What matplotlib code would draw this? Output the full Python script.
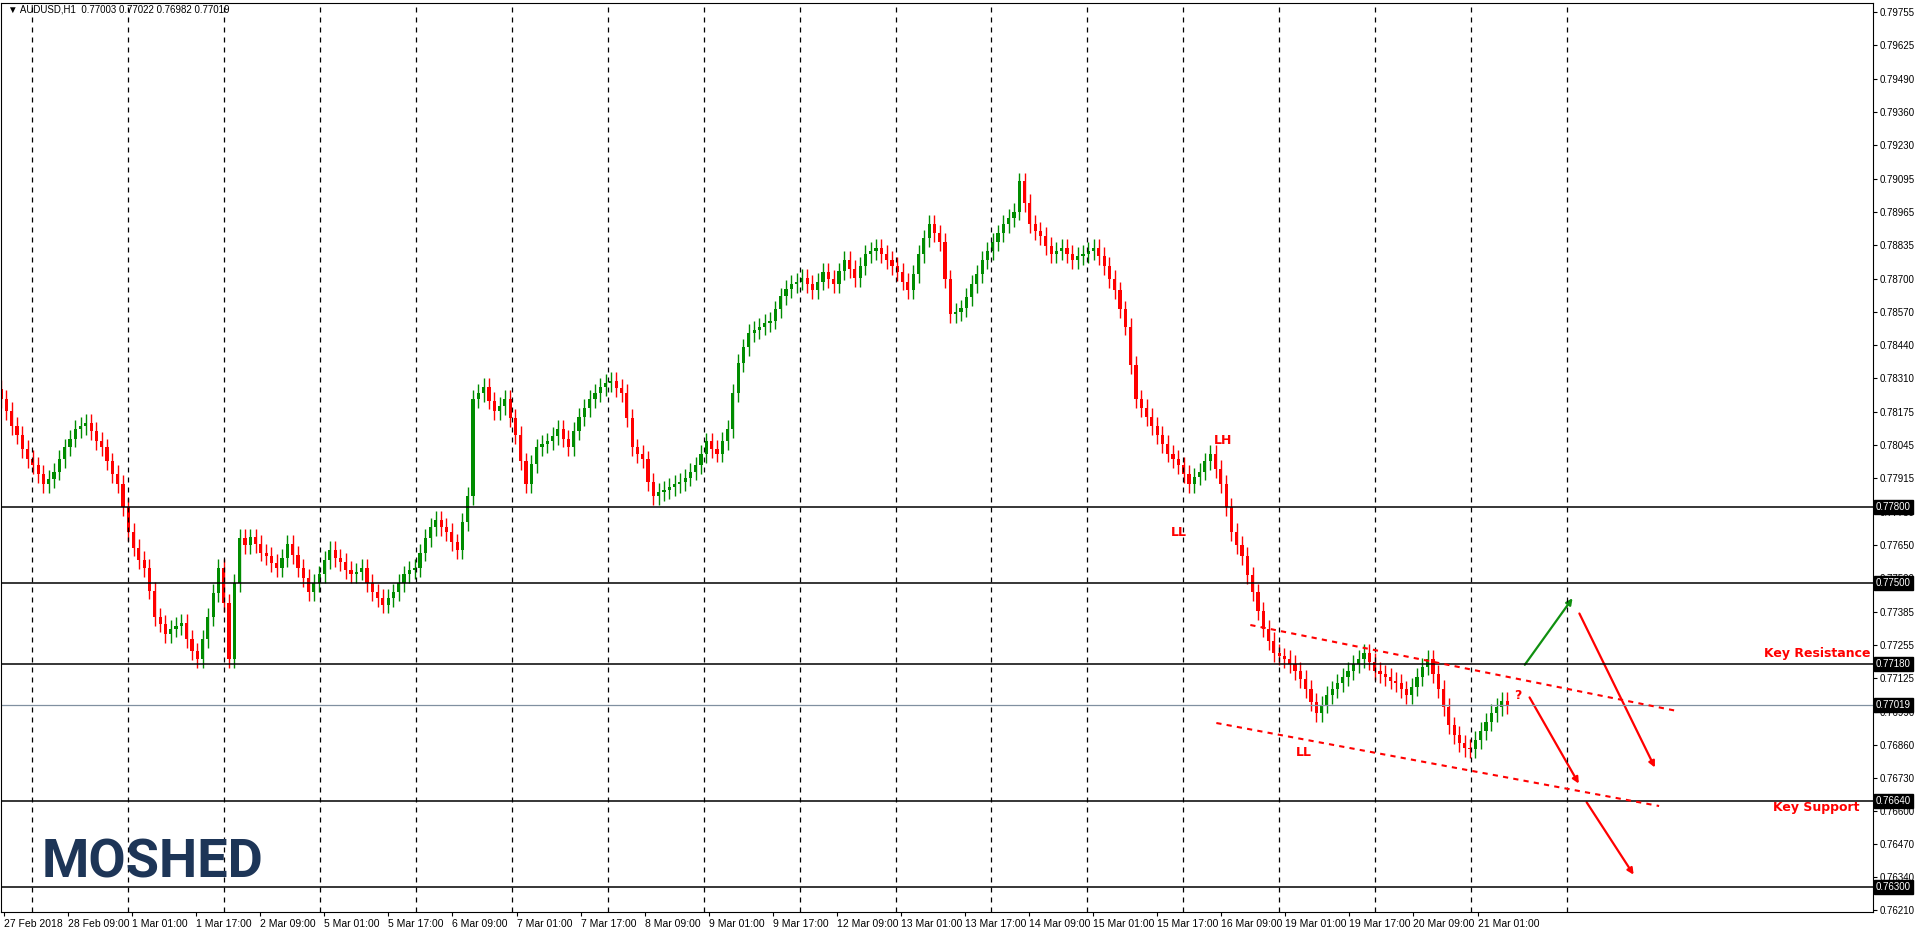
import numpy as np
import matplotlib.pyplot as plt
from matplotlib.patches import FancyArrowPatch

# hourly closes, in 1e-5 units
CLOSES = [
    78226, 78180, 78120, 78083, 78030, 77990, 77964, 77930, 77892, 77910, 77940, 77990, 78035, 78070, 78107, 78120,
    78131, 78100, 78060, 78035, 77980, 77930, 77892, 77800, 77701, 77640, 77590, 77558, 77470, 77367, 77340, 77300,
    77320, 77330, 77344, 77280, 77230, 77201, 77280, 77367, 77460, 77558, 77420, 77201, 77500, 77677, 77650, 77680,
    77654, 77620, 77606, 77580, 77558, 77600, 77654, 77610, 77558, 77520, 77463, 77500, 77534, 77590, 77630, 77600,
    77582, 77550, 77534, 77545, 77558, 77500, 77463, 77440, 77415, 77440, 77463, 77500, 77534, 77550, 77558, 77620,
    77677, 77720, 77749, 77720, 77701, 77660, 77630, 77740, 77844, 78226, 78250, 78274, 78220, 78178, 78200, 78226,
    78150, 78083, 77980, 77892, 77970, 78035, 78050, 78059, 78080, 78107, 78070, 78035, 78100, 78155, 78190, 78226,
    78250, 78274, 78290, 78297, 78270, 78250, 78150, 78035, 78010, 77988, 77900, 77844, 77860, 77868, 77880, 77892,
    77900, 77916, 77940, 77964, 78010, 78059, 78030, 78011, 78060, 78107, 78250, 78369, 78430, 78488, 78500, 78512,
    78525, 78536, 78580, 78631, 78660, 78679, 78690, 78703, 78680, 78655, 78690, 78727, 78700, 78679, 78730, 78774,
    78740, 78703, 78750, 78798, 78810, 78822, 78800, 78774, 78750, 78727, 78690, 78655, 78720, 78798, 78860, 78918,
    78880, 78846, 78700, 78560, 78570, 78584, 78630, 78679, 78720, 78774, 78810, 78846, 78880, 78918, 78940, 78966,
    79085, 79000, 78918, 78890, 78870, 78830, 78798, 78810, 78822, 78800, 78774, 78790, 78798, 78810, 78822, 78790,
    78750, 78700, 78655, 78580, 78512, 78360, 78226, 78190, 78155, 78120, 78083, 78050, 78011, 77990, 77964, 77930,
    77892, 77920, 77940, 77980, 78011, 77950, 77892, 77800, 77701, 77650, 77606, 77530, 77463, 77390, 77320, 77270,
    77224, 77210, 77201, 77180, 77153, 77120, 77081, 77030, 76986, 77020, 77057, 77080, 77105, 77130, 77153, 77180,
    77201, 77224, 77190, 77153, 77140, 77129, 77115, 77105, 77080, 77057, 77090, 77129, 77170, 77201, 77140, 77081,
    77010, 76938, 76900, 76867, 76850, 76843, 76880, 76915, 76950, 76986, 77010, 77033, 77019,
]
WICK = 0.00035

X_LABELS = ['27 Feb 2018', '28 Feb 09:00', '1 Mar 01:00', '1 Mar 17:00', '2 Mar 09:00', '5 Mar 01:00',
            '5 Mar 17:00', '6 Mar 09:00', '7 Mar 01:00', '7 Mar 17:00', '8 Mar 09:00', '9 Mar 01:00',
            '9 Mar 17:00', '12 Mar 09:00', '13 Mar 01:00', '13 Mar 17:00', '14 Mar 09:00', '15 Mar 01:00',
            '15 Mar 17:00', '16 Mar 09:00', '19 Mar 01:00', '19 Mar 17:00', '20 Mar 09:00', '21 Mar 01:00']
Y_TICKS = [0.79755, 0.79625, 0.79490, 0.79360, 0.79230, 0.79095, 0.78965, 0.78835, 0.78700, 0.78570,
           0.78440, 0.78310, 0.78175, 0.78045, 0.77915, 0.77780, 0.77650, 0.77520, 0.77385, 0.77255,
           0.77125, 0.76990, 0.76860, 0.76730, 0.76600, 0.76470, 0.76340, 0.76210]
LEVELS = [0.77800, 0.77500, 0.77180, 0.76640, 0.76300]
BID = 0.77019

GREEN = '#008c00'
RED = '#ff0000'
TICK_FONT = ['Liberation Sans', 'DejaVu Sans']

closes = np.array(CLOSES) / 1e5
opens = np.concatenate([[closes[0] + 0.0004], closes[:-1]])
n = len(closes)

W, H = 1916, 934
PLOT_R, PLOT_B = 1873, 912
px_bar = 1507 / (n - 1)      # last candle sits at ~1507 px


def px(xp, yp):
    # image pixel -> data coords
    return xp / px_bar, 0.778 - (yp - 507) * 0.00003947


fig = plt.figure(figsize=(W / 100, H / 100), dpi=100)
ax = fig.add_axes([1 / W, (H - PLOT_B) / H, (PLOT_R - 1) / W, (PLOT_B - 3) / H])
ax.set_xlim(0, PLOT_R / px_bar)
ax.set_ylim(px(0, PLOT_B)[1], px(0, 3)[1])

for i in range(n):
    o, c = opens[i], closes[i]
    col = GREEN if c >= o else RED
    lo, hi = min(o, c), max(o, c)
    ax.vlines(i, lo - WICK, hi + WICK, color=col, lw=1)
    ax.bar(i, max(hi - lo, 0.00003), bottom=lo, width=0.6, color=col, lw=0)

# vertical dashed grid
for k in range(17):
    ax.axvline((31 + 96 * k) / px_bar, color='black', lw=0.9, ls=(0, (4, 4)))

for lv in LEVELS:
    ax.axhline(lv, color='black', lw=1.1)
ax.axhline(BID, color='#8090a0', lw=0.9)

ax.yaxis.tick_right()
ax.set_yticks(Y_TICKS)
ax.set_yticklabels([f'{v:.5f}' for v in Y_TICKS], fontsize=7, family=TICK_FONT)
lab_step = 64.1 / px_bar
ax.set_xticks([3 / px_bar + k * lab_step for k in range(len(X_LABELS))])
ax.set_xticklabels(X_LABELS, fontsize=7.5, ha='left', family=TICK_FONT)
ax.tick_params(length=3, pad=2)

for lv in LEVELS + [BID]:
    ax.text(1.0015, lv, f'{lv:.5f}', transform=ax.get_yaxis_transform(), fontsize=7,
            color='white', va='center', ha='left', family=TICK_FONT,
            bbox=dict(boxstyle='square,pad=0.2', fc='black', ec='black'))

# channel lines
for (x1, y1), (x2, y2) in [((1250, 625), (1677, 711)), ((1216, 723), (1659, 806))]:
    a, b = px(x1, y1), px(x2, y2)
    ax.plot([a[0], b[0]], [a[1], b[1]], color=RED, lw=1.5, ls=(0, (2.5, 2.5)))

# arrows
arrows = [((1523, 667), (1574, 596), '#109010'),
          ((1528, 695), (1580, 786), RED),
          ((1578, 611), (1656, 770), RED),
          ((1585, 800), (1635, 877), RED)]
for s, e, col in arrows:
    ax.add_patch(FancyArrowPatch(px(*s), px(*e), arrowstyle='-|>', mutation_scale=9,
                                 color=col, lw=1.6))

for t, (xp, yp) in [('LH', (1223, 441)), ('LL', (1179, 532)), ('LL', (1304, 753)), ('?', (1518, 696))]:
    ax.text(*px(xp, yp), t, color=RED, fontsize=9, fontweight='bold', ha='center', va='center')

ax.text(*px(1870, 653), 'Key Resistance', color=RED, fontsize=9, fontweight='bold', ha='right', va='center')
ax.text(*px(1859, 808), 'Key Support', color=RED, fontsize=9, fontweight='bold', ha='right', va='center')

fig.text(8 / W, 1 - 9 / H, '\u25bc AUDUSD,H1  0.77003 0.77022 0.76982 0.77019', fontsize=7, va='center',
         family=TICK_FONT)
fig.text(42 / W, 1 - 877 / H, 'MOSHED', fontsize=39, fontweight='bold', color='#1d3557',
         va='baseline', family=['Roboto', 'DejaVu Sans'])

fig.savefig('out.png', dpi=100, facecolor='white')
